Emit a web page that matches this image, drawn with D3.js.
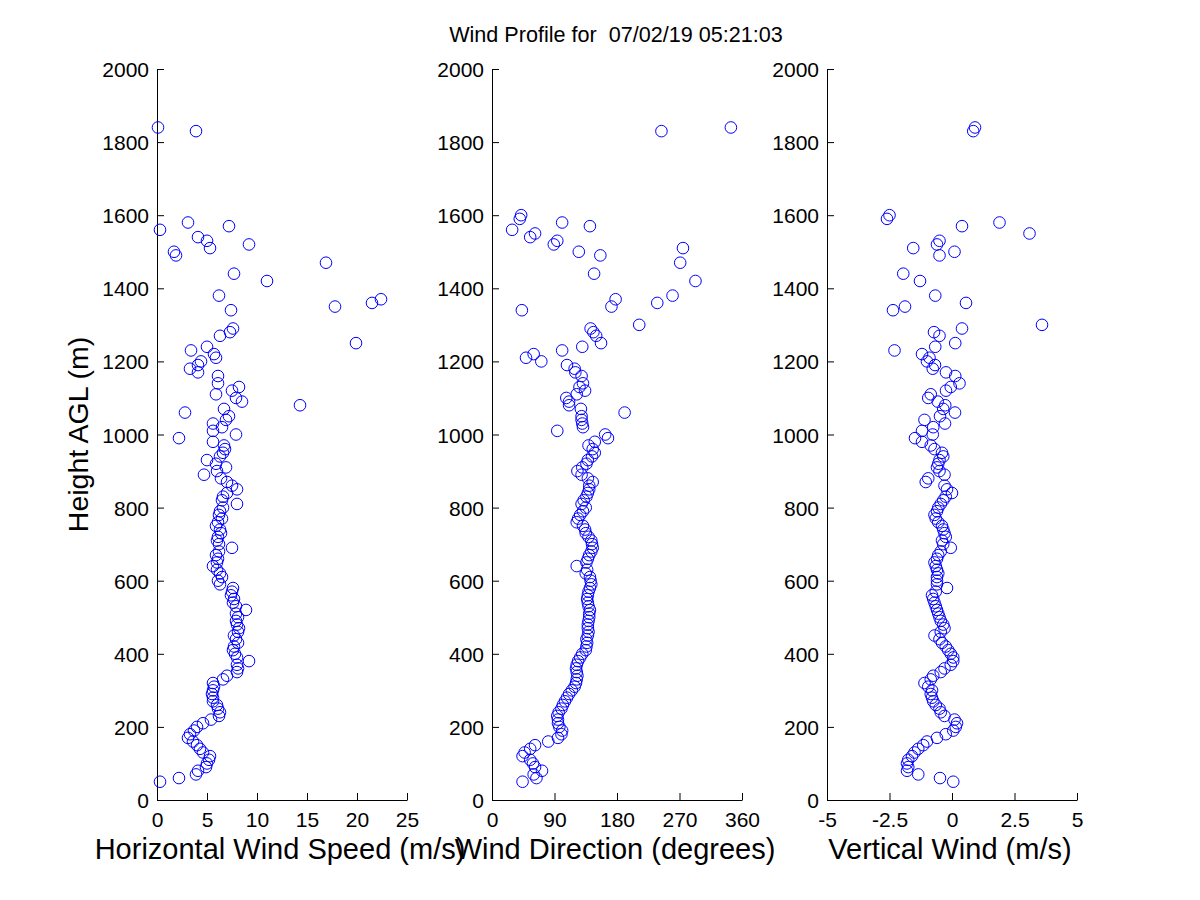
<!DOCTYPE html>
<html><head><meta charset="utf-8">
<script src="https://cdn.jsdelivr.net/npm/d3@7"></script>
<style>
body{margin:0;background:#fff;}
svg text{font-family:"Liberation Sans",Arial,Helvetica,sans-serif;fill:#000;}
</style></head><body>
<svg id="chart" width="1200" height="900"></svg>
<script>
const titleText = "Wind Profile for  07/02/19 05:21:03";
const yLabelText = "Height AGL (m)";
const xLabelTexts = ["Horizontal Wind Speed (m/s)", "Wind Direction (degrees)", "Vertical Wind (m/s)"];

const heights = [50,60,70,80,90,100,110,120,130,140,150,160,170,180,190,200,210,220,230,240,
250,260,270,280,290,300,310,320,330,340,350,360,370,380,390,400,410,420,430,440,
450,460,470,480,490,500,510,520,530,540,550,560,570,580,590,600,610,620,630,640,
650,660,670,680,690,700,710,720,730,740,750,760,770,780,790,800,810,820,830,840,
850,860,870,880,890,900,910,920,930,940,950,960,970,980,990,
1000,1010,1020,1030,1040,1050,1060,1070,1080,1090,1100,1110,1120,1130,1140,1160,1170,1180,1190,1200,
1210,1220,1230,1240,1250,1270,1280,1290,1300,1340,1350,1360,1370,1380,1420,1440,1470,1490,1500,1510,
1520,1530,1540,1550,1560,1570,1580,1590,1600,1830,1840];

const speed = [0.3,2.2,3.9,4.1,4.9,5.0,5.2,5.3,4.6,4.3,4.0,3.6,3.1,3.3,3.7,4.0,4.6,5.4,6.2,6.3,
6.1,6.0,5.6,5.6,5.5,5.6,5.7,5.6,6.6,7.0,8.0,8.1,8.0,9.2,8.0,7.8,7.6,7.7,8.1,7.9,
7.7,8.1,8.2,8.0,7.9,8.1,7.9,8.9,7.9,7.6,7.7,7.4,7.5,7.6,6.3,6.1,6.5,6.3,6.0,5.6,
6.0,6.1,5.9,6.2,7.5,6.2,6.0,6.1,6.4,6.3,5.9,6.1,6.5,6.2,6.3,6.6,8.0,6.5,6.6,7.0,
8.0,7.5,7.0,6.4,4.7,6.0,6.9,5.9,5.0,6.3,6.6,6.8,6.7,5.6,2.2,
7.9,5.6,6.5,5.6,6.9,7.2,2.8,6.7,14.3,8.5,7.9,5.9,7.5,8.2,6.1,6.1,4.1,3.3,4.1,4.4,
5.9,5.7,3.4,5.0,19.9,6.3,7.3,7.6,null,7.4,17.8,21.5,22.4,6.2,11.0,7.7,16.9,1.9,1.7,5.3,
9.2,5.0,4.1,null,0.3,7.2,3.1,null,null,3.9,0.1];

const direction = [44,64,60,72,62,59,55,44,47,55,62,81,95,100,101,97,95,95,94,96,
100,102,105,108,111,115,119,121,122,123,122,121,122,124,127,130,135,136,137,136,
138,139,138,138,139,140,140,141,139,138,137,138,139,141,143,142,141,135,137,122,
136,138,140,143,145,144,143,139,135,134,131,122,124,127,131,135,129,132,136,138,
140,140,145,138,129,123,130,136,138,144,148,145,139,148,167,
163,94,131,130,129,129,191,128,111,111,107,122,134,126,131,129,120,119,108,71,
49,60,101,130,157,150,146,142,212,43,172,238,178,260,293,147,271,156,125,275,
89,94,55,62,29,141,101,40,42,244,344];

const vertical = [0.05,-0.48,-1.35,-1.8,-1.75,-1.8,-1.75,-1.6,-1.5,-1.35,-1.15,-1.0,-0.6,-0.25,0.05,0.15,0.2,0.1,-0.3,-0.45,
-0.5,-0.65,-0.75,-0.8,-0.85,-0.8,-0.95,-1.1,-0.85,-0.75,-0.45,-0.3,-0.05,0.05,0.05,-0.05,-0.15,-0.25,-0.4,-0.5,
-0.7,-0.45,-0.3,-0.35,-0.45,-0.5,-0.55,-0.6,-0.65,-0.7,-0.75,-0.8,-0.65,-0.2,-0.6,-0.6,-0.6,-0.55,-0.6,-0.65,
-0.7,-0.6,-0.55,-0.45,-0.05,-0.35,-0.4,-0.25,-0.3,-0.35,-0.4,-0.55,-0.65,-0.7,-0.6,-0.55,-0.45,-0.35,-0.25,0.0,
-0.2,-0.3,-1.05,-0.95,-0.3,-0.5,-0.6,-0.55,-0.5,-0.35,-0.4,-0.7,-0.85,-1.2,-1.48,
-0.77,-1.2,-0.75,-0.28,-1.1,-0.48,0.12,-0.35,-0.27,-0.57,-0.95,-0.85,-0.24,-0.05,0.3,0.13,-0.24,-0.77,-0.68,-1.0,
-0.9,-1.2,-2.3,-0.67,0.13,-0.5,-0.72,0.4,3.6,-2.36,-1.88,0.56,null,-0.67,-1.28,-1.95,null,-0.5,0.1,-1.55,
-0.6,-0.5,null,3.1,null,0.4,1.9,-2.6,-2.5,0.85,0.92];

const heightTicks = [0,200,400,600,800,1000,1200,1400,1600,1800,2000];
const speedTicks = [0,5,10,15,20,25];
const dirTicks = [0,90,180,270,360];
const vertTicks = [-5,-2.5,0,2.5,5];

const panels = [
  {values: speed, domain: [0,25], ticks: speedTicks, label: xLabelTexts[0], left: 157},
  {values: direction, domain: [0,360], ticks: dirTicks, label: xLabelTexts[1], left: 492},
  {values: vertical, domain: [-5,5], ticks: vertTicks, label: xLabelTexts[2], left: 827}
];

const svg = d3.select("#chart");
const plotW = 250, plotTop = 69, plotBottom = 800;
const yScale = d3.scaleLinear().domain([0,2000]).range([plotBottom, plotTop]);

panels.forEach((p, i) => {
  const x = d3.scaleLinear().domain(p.domain).range([p.left, p.left + plotW]);
  const g = svg.append("g");

  const ax = g.append("g").attr("transform", `translate(0,${plotBottom})`)
    .call(d3.axisBottom(x).tickValues(p.ticks).tickSizeInner(-7).tickSizeOuter(0).tickFormat(d => String(d)));
  ax.selectAll("text").attr("y", 27).attr("dy", null).style("font-size", "21px");
  const ay = g.append("g").attr("transform", `translate(${p.left},0)`)
    .call(d3.axisLeft(yScale).tickValues(heightTicks).tickSizeInner(-7).tickSizeOuter(0).tickFormat(d => String(d)));
  ay.selectAll("text").attr("x", -8).attr("dy", "0.36em").style("font-size", "21px");
  [ax, ay].forEach(a => { a.attr("font-size", null).attr("font-family", null);
    a.selectAll("path,line").attr("stroke", "#000").attr("stroke-width", 1); });

  const pts = heights.map((h, k) => ({h, v: p.values[k]})).filter(d => d.v !== null);
  g.append("g").selectAll("circle").data(pts).join("circle")
    .attr("cx", d => x(d.v)).attr("cy", d => yScale(d.h)).attr("r", 5.8)
    .attr("fill", "none").attr("stroke", "#0000ff").attr("stroke-width", 1);

  g.append("text").attr("x", p.left + plotW / 2 - 2).attr("y", 859)
    .attr("text-anchor", "middle").style("font-size", "29px").text(p.label);
});

svg.append("text").attr("transform", `translate(88,${(plotTop + plotBottom) / 2}) rotate(-90)`)
  .attr("text-anchor", "middle").style("font-size", "28.5px").text(yLabelText);

svg.append("text").attr("x", 616).attr("y", 42).attr("text-anchor", "middle")
  .style("font-size", "21.6px").style("white-space", "pre").text(titleText);
</script>
</body></html>
